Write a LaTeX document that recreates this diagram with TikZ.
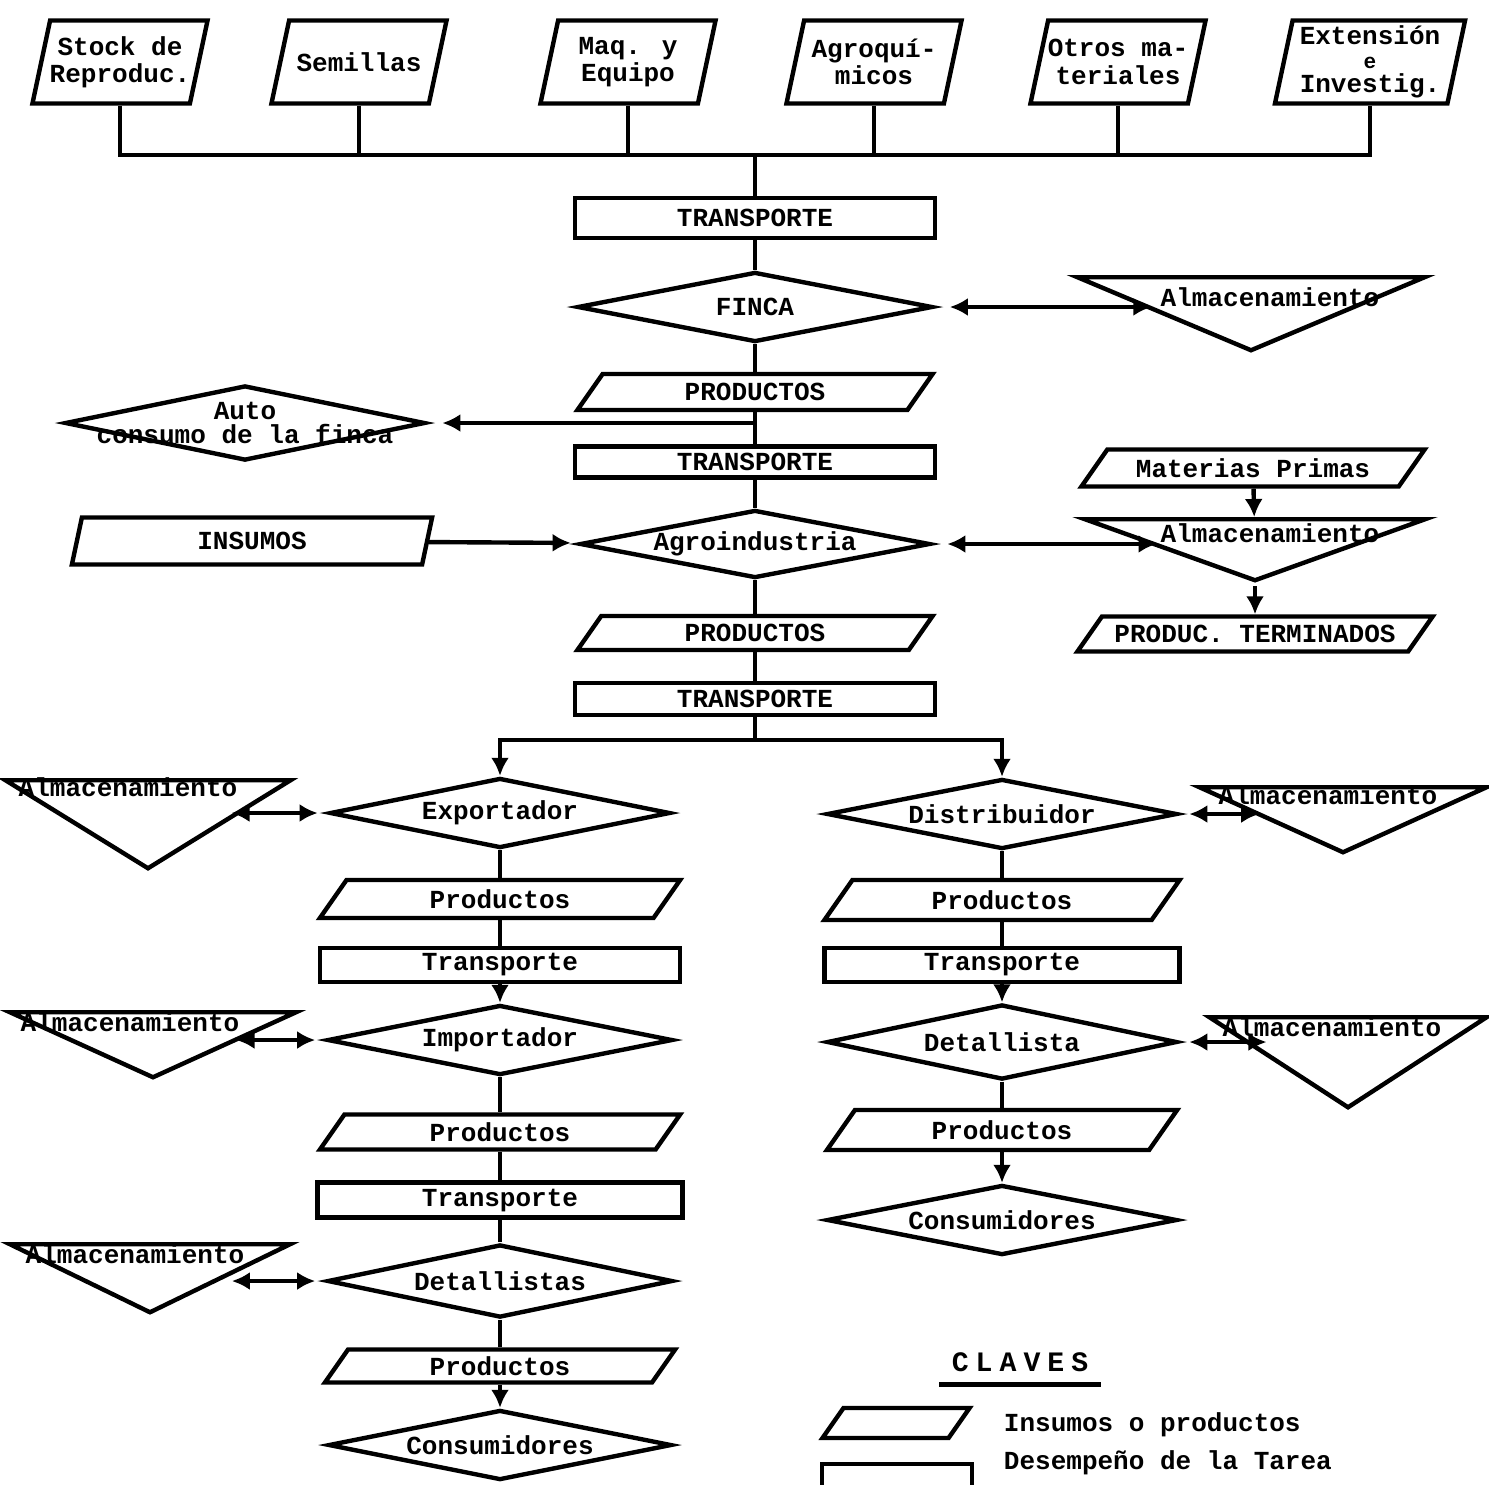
\documentclass[tikz,border=0pt]{standalone}
\usepackage{fontspec}
\setmainfont{Liberation Mono}
\usetikzlibrary{shapes.geometric,arrows.meta}

\newcommand\letra{\fontsize{7.4pt}{7.8pt}\selectfont\bfseries}

\tikzset{
  tarea/.style={draw, rectangle, minimum width=3.6cm, minimum height=0.35cm, inner sep=0pt},
  insumo/.style={draw, trapezium, trapezium left angle=55, trapezium right angle=125,
    trapezium stretches body, minimum width=3.55cm, inner sep=0pt, text height=#1, text depth=0pt},
  insumo/.default=0.36cm,
  entrada/.style={draw, trapezium, trapezium left angle=78, trapezium right angle=102,
    trapezium stretches body, minimum width=1.75cm, inner sep=0pt, text height=0.83cm, text depth=0pt},
  agente/.style={draw, diamond, aspect=5, minimum width=3.5cm, minimum height=0.7cm, inner sep=0pt},
  almac/.style 2 args={draw, isosceles triangle, isosceles triangle stretches,
    shape border rotate=270, minimum width=#1, minimum height=#2, inner sep=0pt, anchor=north},
  flecha/.style={-{Latex[length=1.8mm,width=1.8mm]}},
  doble/.style={{Latex[length=1.8mm,width=1.8mm]}-{Latex[length=1.8mm,width=1.8mm]}},
  every label/.style={inner sep=0pt, align=center},
}

\begin{document}
\begin{tikzpicture}[x=0.01cm, y=-0.01cm, line width=1.25pt, font=\letra]
  \useasboundingbox (0,0) rectangle (1489,1484);
  \clip (0,0) rectangle (1489,1484);

  % Insumos de la finca
  \node[entrada, label=center:{Stock de\\Reproduc.}] (stock) at (120,62) {};
  \node[entrada, label=center:Semillas] (semillas) at (359,62) {};
  \node[entrada, label=center:{Maq. y\\Equipo}] (maq) at (628,62) {};
  \node[entrada, label=center:{Agroquí-\\micos}] (agroq) at (874,62) {};
  \node[entrada, label=center:{Otros ma-\\teriales}] (otros) at (1118,62) {};
  \node[entrada, minimum width=1.9cm,
    label=center:{Extensión\\[-1pt]{\fontsize{6pt}{6pt}\selectfont e}\\[-1pt]Investig.}] (ext) at (1370,62) {};

  \coordinate (bus) at (755,155);
  \draw (stock.south) -- (stock.south |- bus) -- (ext.south |- bus) -- (ext.south);
  \foreach \n in {semillas,maq,agroq,otros}
    \draw (\n.south) -- (\n.south |- bus);

  % Finca
  \node[tarea, minimum height=0.4cm] (trans1) at (755,218) {TRANSPORTE};
  \node[agente, minimum width=3.55cm] (finca) at (755,307) {FINCA};
  \node[almac={3.47cm}{0.73cm}] (alm1) at (1251,275) {};
  \node (alm1-t) at (1270,297) {Almacenamiento};
  \draw (bus) -- (trans1);
  \draw (trans1) -- (finca);
  \draw[doble, shorten <=1.5mm] (finca) -- (finca -| alm1.west);

  \node[insumo, label=center:PRODUCTOS] (prod1) at (755,392) {};
  \node[agente, minimum width=3.6cm, minimum height=0.75cm,
    label=center:{Auto\\[-1pt]consumo de la finca}] (auto) at (245,423) {};
  \coordinate (ramal) at (755,423);
  \draw (finca) -- (prod1);
  \draw[flecha, shorten >=1.5mm] (ramal) -- (auto);

  % Agroindustria
  \node[tarea, minimum height=0.31cm] (trans2) at (755,462) {TRANSPORTE};
  \node[agente, minimum height=0.68cm] (agro) at (755,544) {Agroindustria};
  \node[insumo=0.47cm, trapezium left angle=78, trapezium right angle=102, minimum width=3.6cm,
    label=center:INSUMOS] (insumos) at (252,541) {};
  \draw (prod1) -- (trans2);
  \draw (trans2) -- (agro);
  \draw[flecha, shorten >=1.2mm] (insumos) -- (agro);

  \node[insumo=0.37cm, minimum width=3.43cm, label=center:Materias Primas] (matprim) at (1253,468) {};
  \node[almac={3.4cm}{0.61cm}] (alm2) at (1255,517) {};
  \node (alm2-t) at (1270,533) {Almacenamiento};
  \node[insumo=0.35cm, label=center:PRODUC. TERMINADOS] (terminados) at (1255,634) {};
  \draw[flecha] (matprim) -- (alm2);
  \draw[doble, shorten <=1.5mm] (agro) -- (agro -| alm2.west);
  \draw[flecha] (alm2.apex) -- (terminados);

  \node[insumo=0.34cm, label=center:PRODUCTOS] (prod2) at (755,633) {};
  \node[tarea, minimum height=0.32cm] (trans3) at (755,699) {TRANSPORTE};
  \draw (agro) -- (prod2);
  \draw (prod2) -- (trans3);

  % Exportacion
  \node[agente, minimum width=3.4cm] (export) at (500,813) {Exportador};
  \node[insumo=0.38cm, minimum width=3.6cm, label=center:Productos] (prodL1) at (500,899) {};
  \node[tarea, minimum height=0.34cm] (transL1) at (500,965) {Transporte};
  \node[agente, minimum width=3.45cm] (import) at (500,1040) {Importador};
  \node[insumo=0.35cm, minimum width=3.6cm, label=center:Productos] (prodL2) at (500,1132) {};
  \node[tarea, minimum width=3.65cm] (transL2) at (500,1200) {Transporte};
  \node[agente, minimum width=3.45cm, minimum height=0.73cm] (detL) at (500,1281) {Detallistas};
  \node[insumo=0.33cm, minimum width=3.5cm, label=center:Productos] (prodL3) at (500,1366) {};
  \node[agente, minimum width=3.43cm] (consL) at (500,1445) {Consumidores};
  \draw (export) -- (prodL1);
  \draw (prodL1) -- (transL1);
  \draw[flecha] (transL1) -- (import);
  \draw (import) -- (prodL2);
  \draw (prodL2) -- (transL2);
  \draw (transL2) -- (detL);
  \draw (detL) -- (prodL3);
  \draw[flecha] (prodL3) -- (consL);

  \node[almac={2.85cm}{0.88cm}] (almL1) at (148,778) {};
  \node (almL1-t) at (128,787) {Almacenamiento};
  \node[almac={2.86cm}{0.65cm}] (almL2) at (153,1010) {};
  \node (almL2-t) at (130,1022) {Almacenamiento};
  \node[almac={2.8cm}{0.68cm}] (almL3) at (150,1242) {};
  \node (almL3-t) at (135,1254) {Almacenamiento};
  \draw[doble, shorten >=1mm] (almL1.east |- export) -- (export);
  \draw[doble, shorten >=1mm] (almL2.east |- import) -- (import);
  \draw[doble, shorten >=1mm] (almL3.east |- detL) -- (detL);

  % Mercado interno
  \node[agente] (distrib) at (1002,814) {Distribuidor};
  \node[insumo=0.4cm, label=center:Productos] (prodR1) at (1002,900) {};
  \node[tarea, minimum width=3.55cm, minimum height=0.34cm] (transR) at (1002,965) {Transporte};
  \node[agente, minimum height=0.75cm] (detR) at (1002,1042) {Detallista};
  \node[insumo=0.4cm, minimum width=3.5cm, label=center:Productos] (prodR2) at (1002,1130) {};
  \node[agente] (consR) at (1002,1220) {Consumidores};
  \draw (distrib) -- (prodR1);
  \draw (prodR1) -- (transR);
  \draw[flecha] (transR) -- (detR);
  \draw (detR) -- (prodR2);
  \draw[flecha] (prodR2) -- (consR);

  \node[almac={2.87cm}{0.65cm}] (almR1) at (1343,785) {};
  \node (almR1-t) at (1328,795) {Almacenamiento};
  \node[almac={2.77cm}{0.9cm}] (almR2) at (1348,1015) {};
  \node (almR2-t) at (1332,1027) {Almacenamiento};
  \draw[doble, shorten <=1mm] (distrib) -- (distrib -| almR1.west);
  \draw[doble, shorten <=1mm] (detR) -- (detR -| almR2.west);

  % Reparto
  \coordinate (split) at (755,740);
  \draw (trans3) -- (split);
  \draw[flecha] (split) -| (export);
  \draw[flecha] (split) -| (distrib);

  % Claves
  \node[inner sep=3pt, font=\fontsize{8pt}{9pt}\selectfont\bfseries] (claves) at (1020,1362)
    {C\hspace{2pt}L\hspace{2pt}A\hspace{2pt}V\hspace{2pt}E\hspace{2pt}S};
  \draw[line width=1.6pt] (claves.south west) -- (claves.south east);
  \node[insumo=0.3cm, minimum width=1.47cm] (leyins) at (896,1423) {};
  \node[anchor=west] (txtins) at (990,1425) {Insumos o productos};
  \node[tarea, minimum width=1.5cm, minimum height=0.5cm, anchor=north] (leytar) at (897,1462) {};
  \node[anchor=west] (txttar) at (990,1463) {Desempeño de la Tarea};
\end{tikzpicture}
\end{document}
